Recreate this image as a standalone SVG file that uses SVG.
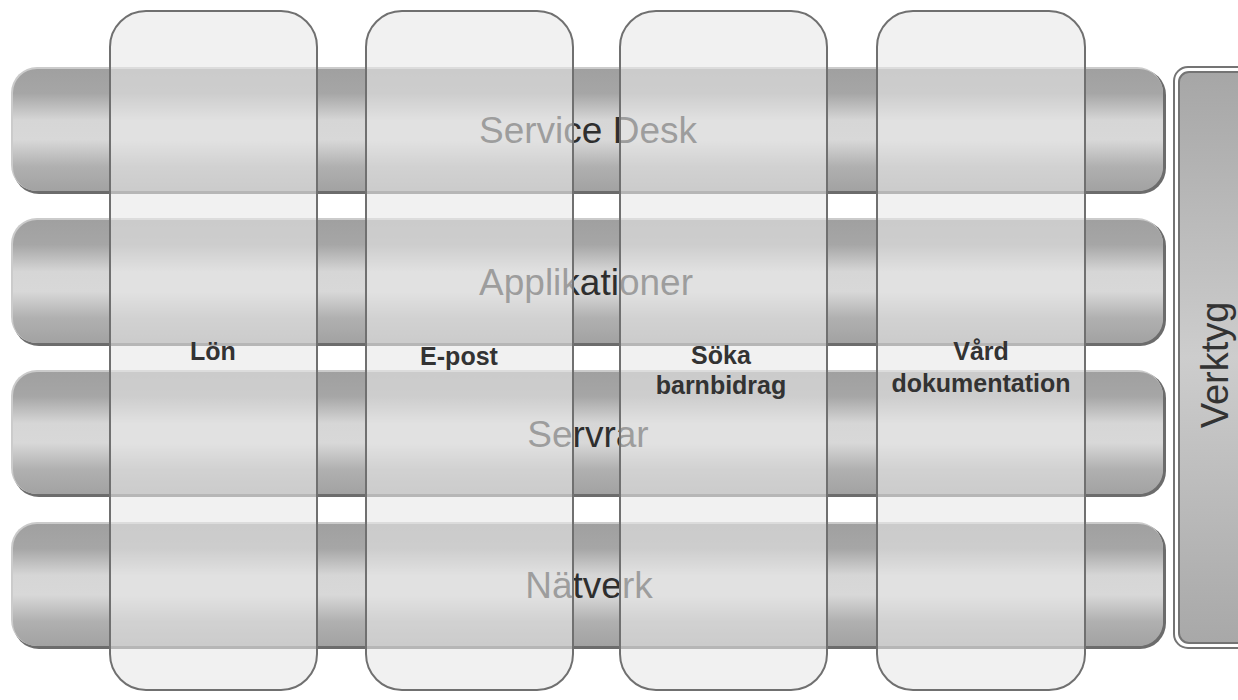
<svg xmlns="http://www.w3.org/2000/svg" width="1238" height="700" viewBox="0 0 1238 700">
  <style>
    .bar-shadow { fill: #6c6c6c; }
    .bar-light { fill: #cbcbcb; }
    .bar-body { fill: url(#barGrad); }
    .bar-text { font-family: "Liberation Sans", Arial, sans-serif; font-size: 37px; fill: #2e2e2e; text-anchor: middle; }
    .column { fill: #e8e8e8; fill-opacity: 0.6; stroke: #707070; stroke-width: 2; }
    .col-label { font-family: "Liberation Sans", Arial, sans-serif; font-size: 25px; font-weight: bold; fill: #333333; text-anchor: middle; }
    .tool-outer { fill: #ffffff; stroke: #747474; stroke-width: 2; }
    .tool-inner { fill: url(#toolGrad); stroke: #747474; stroke-width: 2; }
    .tool-text { font-family: "Liberation Sans", Arial, sans-serif; font-size: 38px; fill: #333333; text-anchor: middle; }
  </style>
  <defs>
    <linearGradient id="barGrad" x1="0" y1="0" x2="0" y2="1">
      <stop offset="0" stop-color="#a0a0a0"/>
      <stop offset="0.2" stop-color="#a6a6a6"/>
      <stop offset="0.42" stop-color="#d6d6d6"/>
      <stop offset="0.58" stop-color="#d8d8d8"/>
      <stop offset="0.8" stop-color="#b0b0b0"/>
      <stop offset="1" stop-color="#a2a2a2"/>
    </linearGradient>
    <linearGradient id="toolGrad" x1="0" y1="0" x2="0" y2="1">
      <stop offset="0" stop-color="#a6a6a6"/>
      <stop offset="0.5" stop-color="#cdcdcd"/>
      <stop offset="1" stop-color="#a8a8a8"/>
    </linearGradient>
  </defs>

  <rect width="1238" height="700" fill="#ffffff"/>

  <!-- horizontal layers -->
  <g id="layer-service-desk">
    <rect class="bar-shadow" x="13" y="69" width="1153" height="125" rx="26"/>
    <rect class="bar-light" x="11" y="67" width="1152" height="124" rx="26"/>
    <rect class="bar-body" x="13" y="69" width="1150" height="122" rx="24"/>
    <text class="bar-text" x="588" y="143">Service Desk</text>
  </g>
  <g id="layer-applikationer">
    <rect class="bar-shadow" x="13" y="220" width="1153" height="126" rx="26"/>
    <rect class="bar-light" x="11" y="218" width="1152" height="125" rx="26"/>
    <rect class="bar-body" x="13" y="220" width="1150" height="123" rx="24"/>
    <text class="bar-text" x="586" y="295">Applikationer</text>
  </g>
  <g id="layer-servrar">
    <rect class="bar-shadow" x="13" y="372" width="1153" height="125" rx="26"/>
    <rect class="bar-light" x="11" y="370" width="1152" height="124" rx="26"/>
    <rect class="bar-body" x="13" y="372" width="1150" height="122" rx="24"/>
    <text class="bar-text" x="588" y="447">Servrar</text>
  </g>
  <g id="layer-natverk">
    <rect class="bar-shadow" x="13" y="524" width="1153" height="125" rx="26"/>
    <rect class="bar-light" x="11" y="522" width="1152" height="124" rx="26"/>
    <rect class="bar-body" x="13" y="524" width="1150" height="122" rx="24"/>
    <text class="bar-text" x="589" y="598">Nätverk</text>
  </g>

  <!-- tools column on the right -->
  <g id="tool-verktyg">
    <rect class="tool-outer" x="1174" y="67" width="90" height="581" rx="14"/>
    <rect class="tool-inner" x="1179" y="72" width="90" height="571" rx="10"/>
    <text class="tool-text" transform="translate(1228 365) rotate(-90)" x="0" y="0">Verktyg</text>
  </g>

  <!-- vertical services -->
  <g id="service-lon">
    <rect class="column" x="110" y="11" width="207" height="679" rx="36"/>
    <text class="col-label" x="213" y="360">Lön</text>
  </g>
  <g id="service-epost">
    <rect class="column" x="366" y="11" width="207" height="679" rx="36"/>
    <text class="col-label" x="459" y="365">E-post</text>
  </g>
  <g id="service-barnbidrag">
    <rect class="column" x="620" y="11" width="207" height="679" rx="36"/>
    <text class="col-label" x="721" y="364">Söka<tspan x="721" y="394">barnbidrag</tspan></text>
  </g>
  <g id="service-vard">
    <rect class="column" x="877" y="11" width="208" height="679" rx="36"/>
    <text class="col-label" x="981" y="360">Vård<tspan x="981" y="392">dokumentation</tspan></text>
  </g>

  <g id="connectors"/>
</svg>
